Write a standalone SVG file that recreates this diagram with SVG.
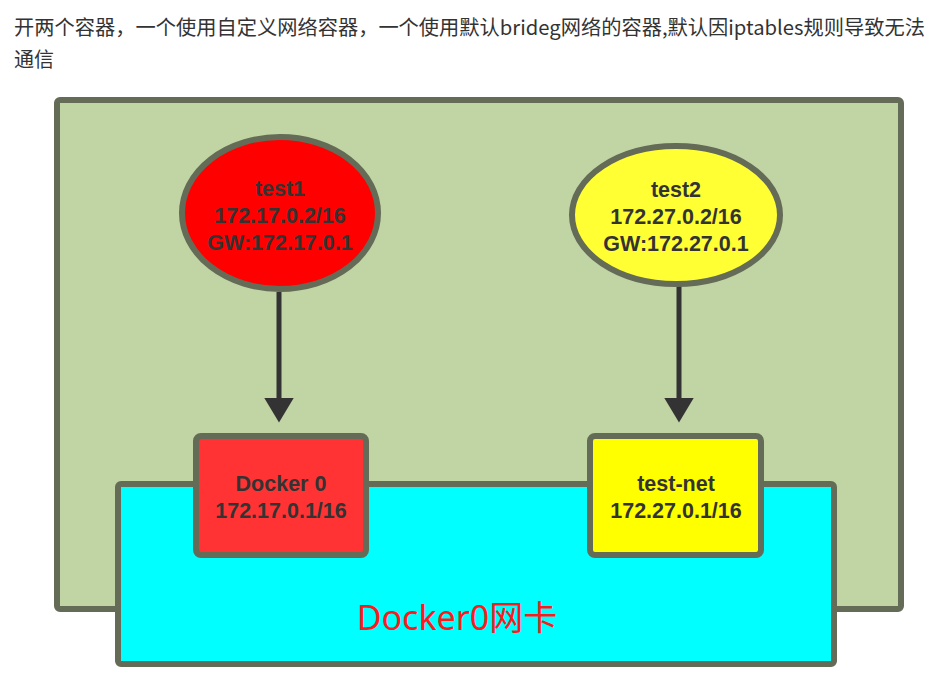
<svg xmlns="http://www.w3.org/2000/svg" width="931" height="678" viewBox="0 0 931 678">
<style>
.title{font-family:"Noto Sans CJK SC","Noto Sans",sans-serif;font-size:20px;fill:#333}
.box{stroke:#646b56;stroke-width:6}
.lbl{font-family:"Liberation Sans",Arial,sans-serif;font-size:21.5px;font-weight:bold;fill:#333;text-anchor:middle}
.conn{stroke:#333;stroke-width:5;fill:none}
</style>
<defs>
<marker id="ah" markerWidth="5" markerHeight="6" refX="0.5" refY="3" orient="auto" markerUnits="strokeWidth">
<path d="M0,0 L5,3 L0,6 Z" fill="#333"/>
</marker>
</defs>
<rect width="931" height="678" fill="#fff"/>
<text class="title" x="14" y="35" textLength="911" lengthAdjust="spacingAndGlyphs">开两个容器，一个使用自定义网络容器，一个使用默认brideg网络的容器,默认因iptables规则导致无法</text>
<text class="title" x="14" y="67">通信</text>
<g id="host">
<rect class="box" x="57" y="100" width="844" height="509" rx="3" fill="#c1d4a4"/>
</g>
<g id="docker0-nic">
<rect class="box" x="118" y="484" width="716" height="180" rx="3" fill="#00ffff"/>
<text x="457" y="630" font-family="'Noto Sans','Noto Sans CJK SC',sans-serif" font-size="34" fill="#ff1a1a" text-anchor="middle">Docker0网卡</text>
</g>
<g id="connectors">
<line class="conn" x1="279" y1="292" x2="279" y2="400" marker-end="url(#ah)"/>
<line class="conn" x1="679" y1="286" x2="679" y2="400" marker-end="url(#ah)"/>
</g>
<g id="test1">
<ellipse class="box" cx="280" cy="213" rx="98" ry="76" fill="#ff0000"/>
<text class="lbl" x="280" y="196">test1</text>
<text class="lbl" x="280" y="223">172.17.0.2/16</text>
<text class="lbl" x="280" y="250">GW:172.17.0.1</text>
</g>
<g id="test2">
<ellipse class="box" cx="676" cy="215" rx="104" ry="69" fill="#ffff33"/>
<text class="lbl" x="676" y="197">test2</text>
<text class="lbl" x="676" y="224">172.27.0.2/16</text>
<text class="lbl" x="676" y="251">GW:172.27.0.1</text>
</g>
<g id="docker0">
<rect class="box" x="196" y="436" width="170" height="119" rx="5" fill="#ff3333"/>
<text class="lbl" x="281" y="491">Docker 0</text>
<text class="lbl" x="281" y="518">172.17.0.1/16</text>
</g>
<g id="test-net">
<rect class="box" x="590" y="436" width="171" height="119" rx="5" fill="#ffff00"/>
<text class="lbl" x="676" y="491">test-net</text>
<text class="lbl" x="676" y="518">172.27.0.1/16</text>
</g>
</svg>
